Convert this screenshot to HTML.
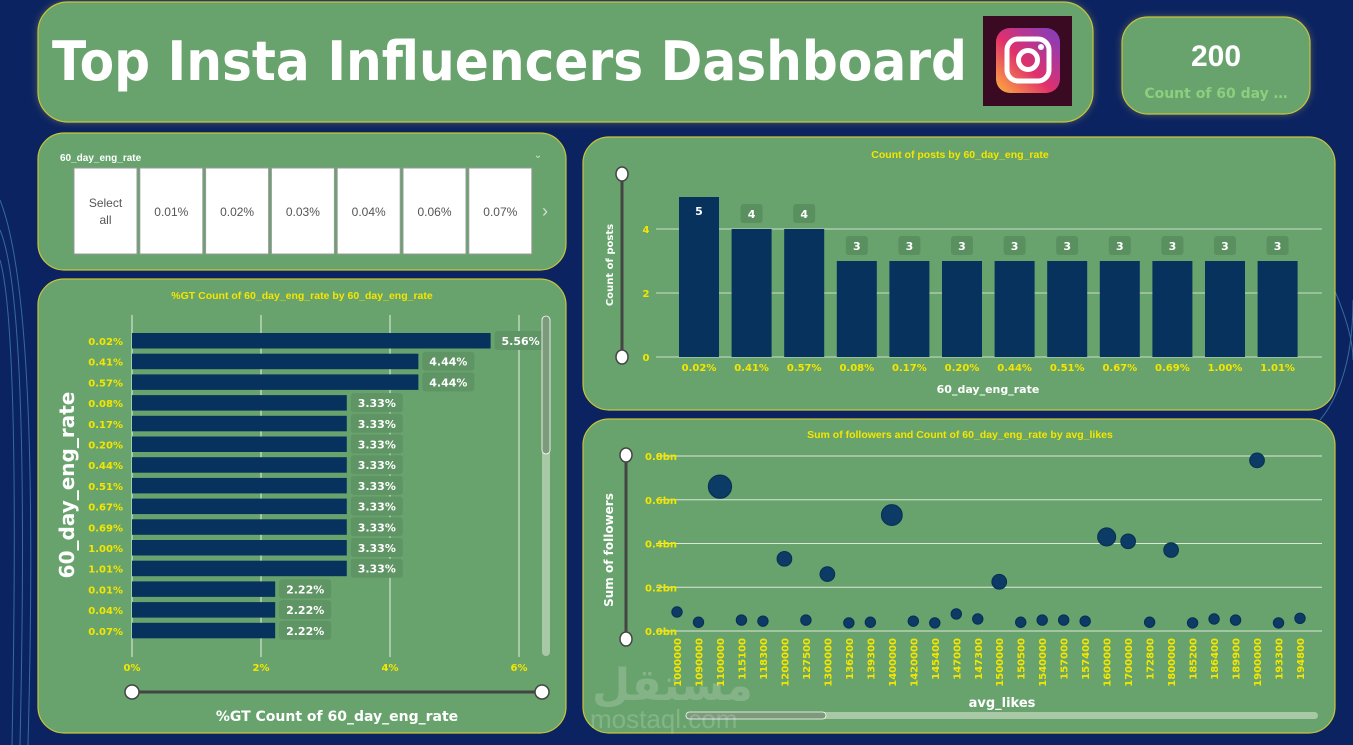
<!DOCTYPE html>
<html><head><meta charset="utf-8">
<style>
html,body{margin:0;padding:0;background:#0c2361;}
svg{display:block;font-family:"Liberation Sans","DejaVu Sans",sans-serif;}
.panel{fill:#68a36d;stroke:#c8c43a;stroke-width:1.2;}
.ylab{fill:#f5e600;font-weight:bold;font-size:10px;font-family:"DejaVu Sans",sans-serif;}
.ttl{fill:#f5e600;font-weight:bold;font-size:10.5px;}
.wlab{fill:#fff;font-weight:bold;font-family:"DejaVu Sans",sans-serif;}
</style></head>
<body>
<svg id="root" width="1353" height="745" viewBox="0 0 1353 745">
  <defs>
    <linearGradient id="ig" x1="0" y1="1" x2="1" y2="0">
      <stop offset="0" stop-color="#fdb23c"/><stop offset="0.45" stop-color="#e1306c"/><stop offset="1" stop-color="#7b3fc4"/>
    </linearGradient>
    <filter id="glow" x="-10%" y="-10%" width="120%" height="130%"><feGaussianBlur stdDeviation="4"/></filter>
  </defs>
  <rect width="1353" height="745" fill="#0c2361"/>
  <g stroke="#5fb3d9" stroke-width="1" opacity="0.5" fill="none">
    <path d="M0 230 Q30 300 20 745"/><path d="M0 200 Q40 300 28 745"/><path d="M0 260 Q20 330 12 745"/>
    <path d="M1330 280 Q1353 330 1353 360"/><path d="M1320 420 Q1353 380 1353 300"/>
  </g>

  <!-- title panel -->
  <rect x="38" y="2" width="1055" height="120" rx="30" fill="#e8e25a" opacity="0.35" filter="url(#glow)"/>
  <rect class="panel" x="38" y="2" width="1055" height="120" rx="30"/>
  <text x="52" y="80" font-size="54" font-weight="bold" fill="#fff" textLength="915" lengthAdjust="spacingAndGlyphs" font-family="'DejaVu Sans',sans-serif">Top Insta Influencers Dashboard</text>
  <g>
    <rect x="983" y="16" width="89" height="90" fill="#3a0a22"/>
    <rect x="996" y="28" width="64" height="65" rx="14" fill="url(#ig)"/>
    <rect x="1007" y="39" width="42" height="42" rx="11" fill="none" stroke="#fff" stroke-width="5"/>
    <circle cx="1028" cy="60" r="9.5" fill="none" stroke="#fff" stroke-width="5"/>
    <circle cx="1041" cy="47" r="3" fill="#fff"/>
  </g>

  <!-- KPI -->
  <rect x="1122" y="17" width="188" height="97" rx="26" fill="#e8e25a" opacity="0.35" filter="url(#glow)"/>
  <rect class="panel" x="1122" y="17" width="188" height="97" rx="26"/>
  <text x="1216" y="66" text-anchor="middle" font-size="30" font-weight="bold" fill="#fff">200</text>
  <text x="1216" y="98" text-anchor="middle" font-size="14" font-weight="bold" fill="#8ccf7e" font-family="'DejaVu Sans',sans-serif">Count of 60 day …</text>

  <!-- slicer -->
  <rect class="panel" x="38" y="133" width="528" height="137" rx="26"/>
  <text x="60" y="161" font-size="10" font-weight="bold" fill="#fff">60_day_eng_rate</text>
  <text x="538" y="158" font-size="10" fill="#cfe5cf" text-anchor="middle">⌄</text>
  <g id="slicer"></g>
  <text x="545" y="217" font-size="18" fill="#d0e0d0" text-anchor="middle">›</text>

  <!-- vertical bar panel -->
  <rect class="panel" x="583" y="137" width="752" height="273" rx="26"/>
  <text class="ttl" x="960" y="158" text-anchor="middle">Count of posts by 60_day_eng_rate</text>
  <g id="vbar"></g>
  <text class="wlab" x="988" y="393" font-size="11" text-anchor="middle">60_day_eng_rate</text>
  <text class="wlab" x="613" y="265" font-size="10" text-anchor="middle" transform="rotate(-90 613 265)">Count of posts</text>
  <g>
    <line x1="622" y1="174" x2="622" y2="357" stroke="#444" stroke-width="3"/>
    <ellipse cx="622" cy="174" rx="6" ry="7" fill="#fff" stroke="#444" stroke-width="1.5"/>
    <ellipse cx="622" cy="357" rx="6" ry="7" fill="#fff" stroke="#444" stroke-width="1.5"/>
  </g>

  <!-- horizontal bar panel -->
  <rect class="panel" x="38" y="279" width="528" height="454" rx="26"/>
  <text class="ttl" x="302" y="299" text-anchor="middle">%GT Count of 60_day_eng_rate by 60_day_eng_rate</text>
  <g id="hbar"></g>
  <text class="wlab" x="74" y="485" font-size="20" text-anchor="middle" transform="rotate(-90 74 485)">60_day_eng_rate</text>
  <text class="wlab" x="337" y="721" font-size="14" text-anchor="middle">%GT Count of 60_day_eng_rate</text>
  <g>
    <line x1="132" y1="692" x2="542" y2="692" stroke="#444" stroke-width="3"/>
    <circle cx="132" cy="692" r="7" fill="#fff" stroke="#444" stroke-width="1.5"/>
    <circle cx="542" cy="692" r="7" fill="#fff" stroke="#444" stroke-width="1.5"/>
  </g>
  <g>
    <rect x="542" y="316" width="8" height="340" rx="4" fill="#a9c9a6"/>
    <rect x="542" y="316" width="8" height="138" rx="4" fill="#7d9a7b" stroke="#fff" stroke-width="0.8"/>
  </g>

  <!-- scatter panel -->
  <rect class="panel" x="583" y="419" width="752" height="314" rx="26"/>
  <text class="ttl" x="960" y="438" text-anchor="middle">Sum of followers and Count of 60_day_eng_rate by avg_likes</text>
  <g id="scatter"></g>
  <text class="wlab" x="1002" y="707" font-size="13" text-anchor="middle">avg_likes</text>
  <text class="wlab" x="613" y="550" font-size="12" text-anchor="middle" transform="rotate(-90 613 550)">Sum of followers</text>
  <g>
    <line x1="626" y1="455" x2="626" y2="639" stroke="#444" stroke-width="3"/>
    <ellipse cx="626" cy="455" rx="6" ry="7" fill="#fff" stroke="#444" stroke-width="1.5"/>
    <ellipse cx="626" cy="639" rx="6" ry="7" fill="#fff" stroke="#444" stroke-width="1.5"/>
  </g>
  <g>
    <rect x="686" y="712" width="632" height="7" rx="3.5" fill="#a9c9a6"/>
    <rect x="686" y="712" width="140" height="7" rx="3.5" fill="#7d9a7b" stroke="#fff" stroke-width="0.8"/>
  </g>
  <text x="592" y="700" font-size="44" font-weight="bold" fill="#fff" opacity="0.18">مستقل</text>
  <text x="590" y="728" font-size="26" fill="#fff" opacity="0.18">mostaql.com</text>
</svg>
<script>
const NS="http://www.w3.org/2000/svg";
function mk(tag,attrs,parent,txt){const e=document.createElementNS(NS,tag);for(const k in attrs)e.setAttribute(k,attrs[k]);if(txt!==undefined)e.textContent=txt;parent.appendChild(e);return e;}

// ---------- slicer ----------
const slicerItems=["Select all","0.01%","0.02%","0.03%","0.04%","0.06%","0.07%"];
const sl=document.getElementById('slicer');
slicerItems.forEach((s,i)=>{
  const x=74+i*65.8;
  const r=mk('rect',{x:x,y:168,width:63,height:86,fill:'#fff',stroke:'#999','stroke-width':1},sl);
  
  
  if(i===0){
    mk('text',{x:x+31.5,y:207,'text-anchor':'middle','font-size':12,fill:'#555'},sl,'Select');
    mk('text',{x:x+31.5,y:224,'text-anchor':'middle','font-size':12,fill:'#555'},sl,'all');
  } else mk('text',{x:x+31.5,y:216,'text-anchor':'middle','font-size':12,fill:'#555'},sl,s);
});

// ---------- vertical bar ----------
const vCats=["0.02%","0.41%","0.57%","0.08%","0.17%","0.20%","0.44%","0.51%","0.67%","0.69%","1.00%","1.01%"];
const vVals=[5,4,4,3,3,3,3,3,3,3,3,3];
const vTicks=[0,2,4];
const vb=document.getElementById('vbar');
const vy=v=>357-v*32;
const vx=i=>679+i*52.6;
vTicks.forEach(t=>{
  const l=mk('line',{x1:656,x2:1322,y1:vy(t),y2:vy(t),stroke:'#c9dcc6','stroke-width':1},vb);
  
  
  mk('text',{x:646,y:vy(t)+4,'text-anchor':'middle',class:'ylab'},vb,String(t));
});
vCats.forEach((c,i)=>{
  const x=vx(i),v=vVals[i];
  const b=mk('rect',{x:x,y:vy(v),width:40,height:v*32,fill:'#08325e'},vb);
  
  
  if(i===0){
    mk('text',{x:x+20,y:vy(v)+18,'text-anchor':'middle','font-size':11,class:'wlab'},vb,String(v));
  } else {
    mk('rect',{x:x+9,y:vy(v)-25,width:22,height:19,rx:3,fill:'#5a8f60'},vb);
    mk('text',{x:x+20,y:vy(v)-11,'text-anchor':'middle','font-size':11,class:'wlab'},vb,String(v));
  }
  mk('text',{x:x+20,y:371,'text-anchor':'middle',class:'ylab'},vb,c);
});

// ---------- horizontal bar ----------
const hCats=["0.02%","0.41%","0.57%","0.08%","0.17%","0.20%","0.44%","0.51%","0.67%","0.69%","1.00%","1.01%","0.01%","0.04%","0.07%"];
const hVals=[5.56,4.44,4.44,3.33,3.33,3.33,3.33,3.33,3.33,3.33,3.33,3.33,2.22,2.22,2.22];
const hTicks=[0,2,4,6];
const hb=document.getElementById('hbar');
const hx=v=>132+v*64.5;
const hy=i=>333+i*20.7;
hTicks.forEach(t=>{
  const l=mk('line',{x1:hx(t),x2:hx(t),y1:315,y2:657,stroke:'#e5efe2','stroke-width':1},hb);
  
  
  mk('text',{x:hx(t),y:671,'text-anchor':'middle',class:'ylab','font-size':9},hb,t+'%');
});
hCats.forEach((c,i)=>{
  const y=hy(i),v=hVals[i];
  const b=mk('rect',{x:hx(0),y:y,width:hx(v)-hx(0),height:15.5,fill:'#08325e'},hb);
  
  
  mk('text',{x:123,y:y+12,'text-anchor':'end',class:'ylab'},hb,c);
  mk('rect',{x:hx(v)+4,y:y-2,width:52,height:19,rx:3,fill:'#5f9464'},hb);
  mk('text',{x:hx(v)+30,y:y+12,'text-anchor':'middle','font-size':11,class:'wlab'},hb,v.toFixed(2)+'%');
});

// ---------- scatter ----------
const sCats=["1000000","1090000","1100000","115100","118300","1200000","127500","1300000","136200","139300","1400000","1420000","145400","147000","147300","1500000","150500","1540000","157000","157400","1600000","1700000","172800","1800000","185200","186400","189900","1900000","193300","194800"];
const sFollowers=[0.087,0.04,0.66,0.05,0.045,0.33,0.05,0.26,0.037,0.04,0.53,0.045,0.037,0.078,0.055,0.225,0.04,0.05,0.05,0.045,0.43,0.41,0.04,0.37,0.037,0.055,0.05,0.78,0.037,0.058];
const sCounts=[1,1,5,1,1,2,1,2,1,1,4,1,1,1,1,2,1,1,1,1,3,2,1,2,1,1,1,2,1,1];
const sTicks=[0,0.2,0.4,0.6,0.8];
const sc=document.getElementById('scatter');
const sy=v=>631-v*218.75;
const sx=i=>677+i*(623/29);
sTicks.forEach(t=>{
  const l=mk('line',{x1:656,x2:1322,y1:sy(t),y2:sy(t),stroke:'#dbe8d8','stroke-width':1},sc);
  
  
  mk('text',{x:645,y:sy(t)+4,class:'ylab'},sc,t.toFixed(1)+'bn');
});
sCats.forEach((c,i)=>{
  const r=5.2*Math.sqrt(sCounts[i]);
  const d=mk('circle',{cx:sx(i),cy:sy(sFollowers[i]),r:r,fill:'#0c3b66',stroke:'#0a2e52','stroke-width':1},sc);
  
  
  const tx=sx(i)+4,ty=638;
  mk('text',{x:tx,y:ty,'text-anchor':'end',class:'ylab','font-size':9.5,transform:`rotate(-90 ${tx} ${ty})`},sc,c);
});
</script>
</body></html>
